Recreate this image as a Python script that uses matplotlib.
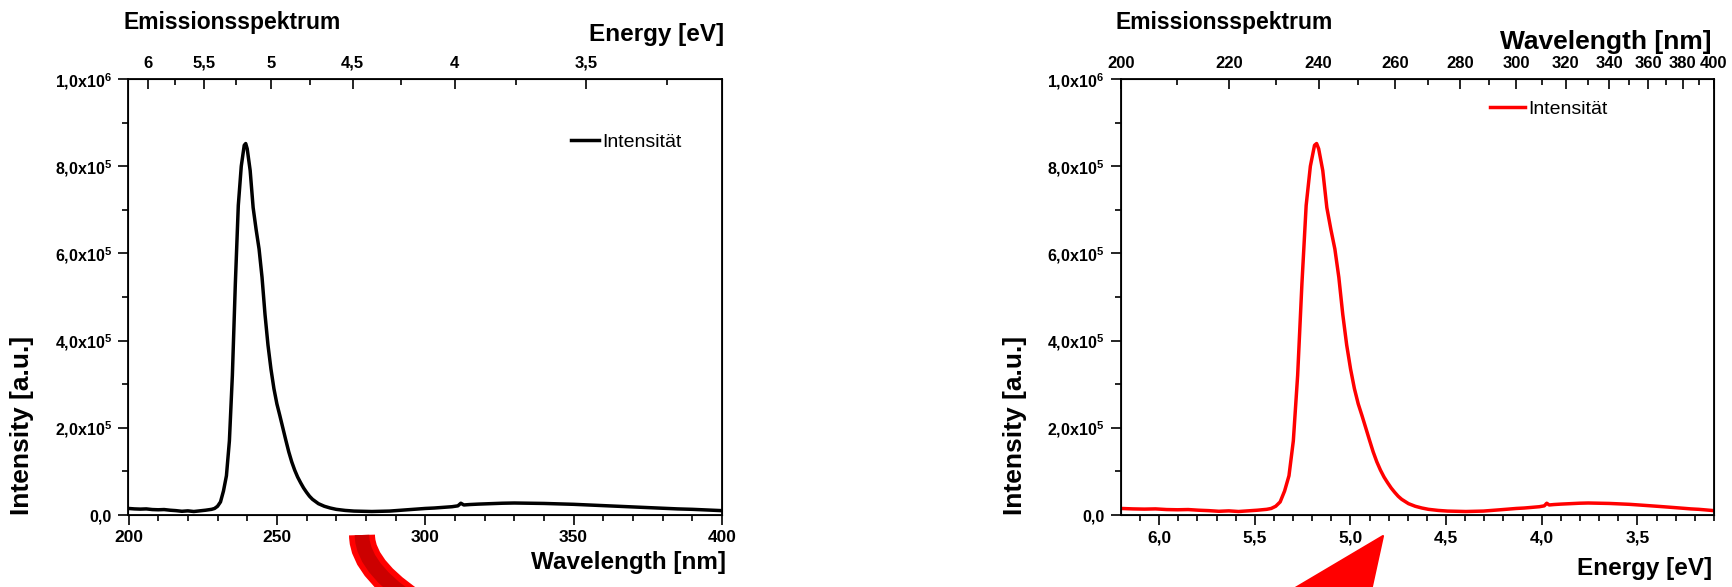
import numpy as np
import matplotlib
matplotlib.use("Agg")
import matplotlib.pyplot as plt
from matplotlib.ticker import FixedLocator, MultipleLocator, FuncFormatter
from matplotlib.path import Path
from matplotlib.patches import PathPatch, Polygon

plt.rcParams['font.family'] = ['Liberation Sans', 'DejaVu Sans']
plt.rcParams['mathtext.default'] = 'regular'

HC = 1239.84  # eV*nm

# Emissionsspektrum: Wellenlaenge [nm] und Intensitaet [a.u.]
wavelength = [200, 202, 204, 206, 208, 210, 212, 214, 216, 218, 220, 222, 224, 226,
              228, 229, 230, 231, 232, 233, 234, 235, 236, 237, 238, 239, 239.5, 240,
              241, 242, 243, 244, 245, 246, 247, 248, 249, 250, 251, 252, 253, 254,
              255, 256, 257, 258, 259, 260, 261, 262, 264, 266, 268, 270, 273, 276,
              279, 282, 285, 288, 291, 294, 297, 300, 303, 306, 309, 311, 312, 313,
              315, 318, 322, 326, 330, 335, 340, 345, 350, 355, 360, 365, 370, 375,
              380, 385, 390, 395, 400]
intensity = [15.0e3, 14.0e3, 13.5e3, 14.0e3, 12.5e3, 12.0e3, 12.5e3, 11.0e3, 10.0e3,
             8.5e3, 9.5e3, 8.0e3, 9.5e3, 11.0e3, 13.0e3, 15.0e3, 20.0e3, 30.0e3,
             55.0e3, 90.0e3, 170e3, 320e3, 530e3, 710e3, 800e3, 848e3, 852e3, 840e3,
             790e3, 705e3, 655e3, 610e3, 545e3, 460e3, 390e3, 335e3, 290e3, 255e3,
             228e3, 200e3, 172e3, 145e3, 122e3, 103e3, 87e3, 74e3, 62e3, 52e3, 43e3,
             36e3, 26e3, 20e3, 16e3, 13e3, 10.5e3, 9.0e3, 8.5e3, 8.0e3, 8.5e3, 9.0e3,
             10.5e3, 12.0e3, 13.5e3, 15.0e3, 16.0e3, 17.5e3, 19.0e3, 21.0e3, 27.0e3,
             23.0e3, 24.0e3, 25.0e3, 26.0e3, 27.0e3, 27.5e3, 27.0e3, 26.5e3, 25.5e3,
             24.5e3, 23.0e3, 21.5e3, 20.0e3, 18.5e3, 17.0e3, 15.5e3, 14.0e3, 13.0e3,
             11.5e3, 10.0e3]

energy_ticks = [6, 5.5, 5, 4.5, 4, 3.5]
energy_minor = [5.75, 5.25, 4.75, 4.25, 3.75, 3.25]
wl_ticks_top = [200, 220, 240, 260, 280, 300, 320, 340, 360, 380, 400]

wl = np.array(wavelength)
inten = np.array(intensity)
en = HC / wl

W, H = 1733, 587
fig = plt.figure(figsize=(W / 100, H / 100), dpi=100)


def px(x, y):
    # Pixel (von oben) -> Figure-Koordinaten
    return x / W, 1 - y / H


def sci_fmt(v, pos):
    if v == 0:
        return '0,0'
    e = int(np.floor(np.log10(abs(v)) + 1e-9))
    m = v / 10 ** e
    return ('%.1f' % m).replace('.', ',') + 'x10$^{%d}$' % e


def comma(v, pos):
    return ('%g' % v).replace('.', ',')


def comma1(v, pos):
    return ('%.1f' % v).replace('.', ',')


def style_main(ax):
    for s in ax.spines.values():
        s.set_linewidth(1.3)
    ax.set_ylim(0, 1.0e6)
    ax.yaxis.set_major_locator(MultipleLocator(2e5))
    ax.yaxis.set_minor_locator(MultipleLocator(1e5))
    ax.yaxis.set_major_formatter(FuncFormatter(sci_fmt))
    ax.tick_params(axis='both', which='major', direction='out', length=7, width=1.2)
    ax.tick_params(axis='both', which='minor', direction='out', length=4.5, width=1.2)
    ax.tick_params(axis='y', labelsize=11.5, pad=5)
    ax.tick_params(axis='x', labelsize=12.5, pad=4)
    ax.tick_params(right=False, top=False, which='both')
    for lab in ax.get_xticklabels() + ax.get_yticklabels():
        lab.set_fontweight('bold')


def style_top(tw):
    tw.tick_params(axis='x', which='major', direction='in', length=7, width=1.2,
                   labelsize=12, pad=6)
    tw.tick_params(axis='x', which='minor', direction='in', length=4, width=1.2)
    for lab in tw.get_xticklabels():
        lab.set_fontweight('bold')


# ---- links: Intensitaet ueber Wellenlaenge ----
ax1 = fig.add_axes([128.5 / W, 1 - 515 / H, (722 - 128.5) / W, (515 - 79) / H])
ax1.plot(wl, inten, color='black', lw=2.5, label='Intensität')
ax1.set_xlim(200, 400)
ax1.xaxis.set_major_locator(MultipleLocator(50))
ax1.xaxis.set_minor_locator(MultipleLocator(10))
ax1.xaxis.set_major_formatter(FuncFormatter(comma))
style_main(ax1)

top1 = ax1.twiny()
top1.set_xlim(ax1.get_xlim())
top1.xaxis.set_major_locator(FixedLocator([HC / e for e in energy_ticks]))
top1.xaxis.set_minor_locator(FixedLocator([HC / e for e in energy_minor]))
top1.set_xticklabels([comma(e, None) for e in energy_ticks])
style_top(top1)

ax1.legend(loc='center left', bbox_to_anchor=((571 - 128.5) / 593.5, (515 - 142) / 436),
           frameon=False, borderpad=0, borderaxespad=0, handlelength=1.45,
           handletextpad=0.15, fontsize=14)

# ---- rechts: Intensitaet ueber Energie ----
ax2 = fig.add_axes([1121 / W, 1 - 515 / H, (1714 - 1121) / W, (515 - 79) / H])
ax2.plot(en, inten, color='#ff0000', lw=2.5, label='Intensität')
ax2.set_xlim(HC / 200, HC / 400)
ax2.xaxis.set_major_locator(MultipleLocator(0.5))
ax2.xaxis.set_minor_locator(MultipleLocator(0.1))
ax2.xaxis.set_major_formatter(FuncFormatter(comma1))
style_main(ax2)

top2 = ax2.twiny()
top2.set_xlim(ax2.get_xlim())
top2.xaxis.set_major_locator(FixedLocator([HC / w for w in wl_ticks_top]))
top2.xaxis.set_minor_locator(FixedLocator([HC / w for w in range(210, 400, 20)]))
top2.set_xticklabels([str(w) for w in wl_ticks_top])
style_top(top2)

ax2.legend(loc='center left', bbox_to_anchor=((1490 - 1121) / 593, (515 - 109) / 436),
           frameon=False, borderpad=0, borderaxespad=0, handlelength=1.8,
           handletextpad=0.15, fontsize=14)

# ---- Beschriftungen ----
bold = dict(fontweight='bold', transform=fig.transFigure)
fig.text(*px(124, 22), 'Emissionsspektrum', fontsize=16.5, ha='left', va='center', **bold)
fig.text(*px(724, 34), 'Energy [eV]', fontsize=17.5, ha='right', va='center', **bold)
fig.text(*px(726, 563), 'Wavelength [nm]', fontsize=17.5, ha='right', va='center', **bold)
fig.text(*px(22, 425), 'Intensity [a.u.]', fontsize=19, ha='center', va='center',
         rotation=90, **bold)

fig.text(*px(1116, 22), 'Emissionsspektrum', fontsize=16.5, ha='left', va='center', **bold)
fig.text(*px(1712, 42), 'Wavelength [nm]', fontsize=19, ha='right', va='center', **bold)
fig.text(*px(1712, 568), 'Energy [eV]', fontsize=17.5, ha='right', va='center', **bold)
fig.text(*px(1015, 425), 'Intensity [a.u.]', fontsize=19, ha='center', va='center',
         rotation=90, **bold)

# ---- Pfeile zwischen den Diagrammen ----
p0, p1, p2 = px(362, 535), px(362, 572), px(430, 612)
curve = Path([p0, p1, p2], [Path.MOVETO, Path.CURVE3, Path.CURVE3])
fig.patches.append(PathPatch(curve, transform=fig.transFigure, fill=False,
                             edgecolor='#ff0000', lw=18.7, capstyle='butt'))
fig.patches.append(PathPatch(curve, transform=fig.transFigure, fill=False,
                             edgecolor='#cc0000', lw=10.5, capstyle='butt'))

head = Polygon([px(1383, 536), px(1369, 600), px(1275, 600)], closed=True,
               transform=fig.transFigure, facecolor='#ff0000', edgecolor='#ff0000',
               lw=1.5, joinstyle='round')
fig.patches.append(head)

fig.savefig('out.png', dpi=100)
